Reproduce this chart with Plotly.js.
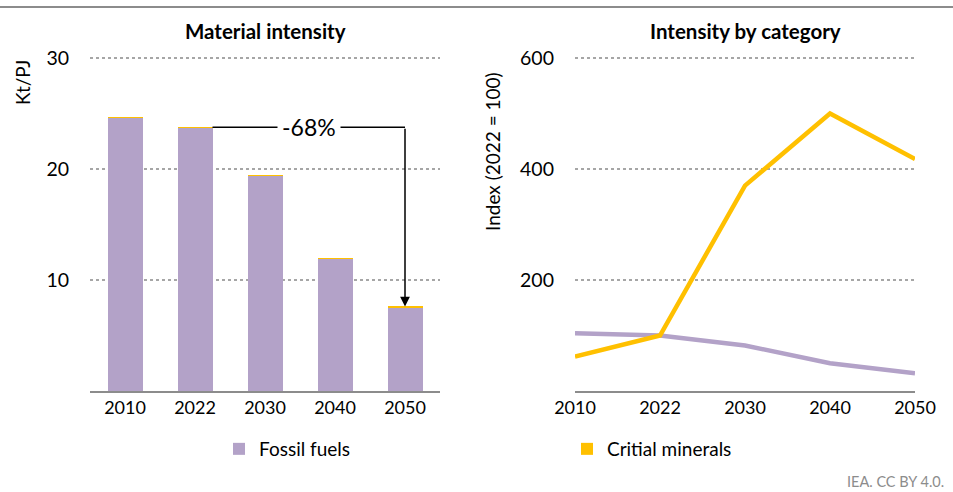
<!DOCTYPE html>
<html>
<head>
<meta charset="utf-8">
<script src="https://cdn.plot.ly/plotly-3.0.1.min.js"></script>
<style>html,body{margin:0;padding:0;background:#fff;}#chart{width:953px;height:492px;}</style>
</head>
<body>
<div id="chart"></div>
<script>
// Data
const years = ['2010', '2022', '2030', '2040', '2050'];
const barFossil = [24.6, 23.7, 19.4, 11.9, 7.5];
const barCritical = [0.05, 0.07, 0.08, 0.1, 0.12];
const indexFossil = [104, 100, 82, 50, 32];
const indexCritical = [62, 100, 370, 500, 418];
const changeLabel = '-68%';

const purple = '#b3a2c8';
const yellow = '#ffc000';
const FONT = 'Lato, "Open Sans", sans-serif';

const traces = [
  {type: 'bar', x: years, y: barFossil, name: 'Fossil fuels', marker: {color: purple},
   xaxis: 'x', yaxis: 'y', legend: 'legend', hoverinfo: 'skip'},
  {type: 'bar', x: years, y: barCritical, name: 'Critial minerals', marker: {color: yellow},
   xaxis: 'x', yaxis: 'y', legend: 'legend2', hoverinfo: 'skip'},
  {type: 'scatter', mode: 'lines', x: years, y: indexFossil, name: 'Fossil fuels',
   line: {color: purple, width: 4.5}, xaxis: 'x2', yaxis: 'y2', showlegend: false},
  {type: 'scatter', mode: 'lines', x: years, y: indexCritical, name: 'Critial minerals',
   line: {color: yellow, width: 4.5}, xaxis: 'x2', yaxis: 'y2', showlegend: false}
];

const W = 953, H = 492;
// 0 at y=391 px, 30 (600) at y=58 px -> 11.1 px per unit; extend range slightly so top gridline is drawn
const yBot = 1 - 391 / H;
const yTop = 1 - (391 - 31 * 333 / 30) / H;

const top2022 = barFossil[1] + barCritical[1];
const top2050 = barFossil[4] + barCritical[4];

const tickFontX = {family: FONT, size: 18, color: '#000'};
const tickFontY = {family: FONT, size: 19.5, color: '#000'};

const axisCommon = {
  showline: true, linecolor: '#8c8c8c', linewidth: 1.5,
  ticks: '', tickfont: tickFontX, fixedrange: true
};
const gridCommon = {
  showline: false, zeroline: false, ticks: '',
  showgrid: true, gridcolor: '#a6a6a6', griddash: 'dot', gridwidth: 1.5,
  tickfont: tickFontY, ticklabelstandoff: 20, fixedrange: true
};

const layout = {
  width: W, height: H,
  margin: {l: 0, r: 0, t: 0, b: 0},
  paper_bgcolor: '#fff', plot_bgcolor: '#fff',
  font: {family: FONT, color: '#000'},
  barmode: 'stack', bargap: 0.5,
  showlegend: true,
  xaxis: Object.assign({}, axisCommon, {
    domain: [90 / W, 440 / W], type: 'category', range: [-0.5, 4.5],
    anchor: 'y', showgrid: false
  }),
  yaxis: Object.assign({}, gridCommon, {
    domain: [yBot, yTop], range: [0, 31], tickvals: [10, 20, 30], anchor: 'x'
  }),
  xaxis2: Object.assign({}, axisCommon, {
    domain: [575 / W, 915 / W], type: 'category', range: [0, 4],
    anchor: 'y2', showgrid: false
  }),
  yaxis2: Object.assign({}, gridCommon, {
    domain: [yBot, yTop], range: [0, 620], tickvals: [200, 400, 600], anchor: 'x2'
  }),
  legend: {
    x: 219 / W, y: 1 - 430 / H, xanchor: 'left', yanchor: 'top',
    orientation: 'h', font: {family: FONT, size: 19, color: '#000'},
    bgcolor: 'rgba(0,0,0,0)', itemwidth: 30
  },
  legend2: {
    x: 567 / W, y: 1 - 430 / H, xanchor: 'left', yanchor: 'top',
    orientation: 'h', font: {family: FONT, size: 19, color: '#000'},
    bgcolor: 'rgba(0,0,0,0)', itemwidth: 30
  },
  shapes: [
    {type: 'line', xref: 'paper', yref: 'paper', x0: 0, x1: 1, y0: 1 - 7 / H, y1: 1 - 7 / H,
     line: {color: '#8c8c8c', width: 2}},
    {type: 'line', xref: 'x', yref: 'y', x0: 1.25, x1: 4, y0: top2022, y1: top2022,
     line: {color: '#000', width: 1.5}}
  ],
  annotations: [
    {text: '<b>Material intensity</b>', xref: 'paper', yref: 'paper', x: 265 / W, y: 1 - 31 / H,
     xanchor: 'center', yanchor: 'middle', showarrow: false, font: {family: FONT, size: 20.5, color: '#000'}},
    {text: '<b>Intensity by category</b>', xref: 'paper', yref: 'paper', x: 745 / W, y: 1 - 31 / H,
     xanchor: 'center', yanchor: 'middle', showarrow: false, font: {family: FONT, size: 20.5, color: '#000'}},
    {text: 'Kt/PJ', xref: 'paper', yref: 'paper', x: 22 / W, y: 1 - 83 / H, textangle: -90,
     xanchor: 'center', yanchor: 'middle', showarrow: false, font: {family: FONT, size: 19, color: '#000'}},
    {text: 'Index (2022 = 100)', xref: 'paper', yref: 'paper', x: 492 / W, y: 1 - 152 / H, textangle: -90,
     xanchor: 'center', yanchor: 'middle', showarrow: false, font: {family: FONT, size: 19, color: '#000'}},
    {text: '', xref: 'x', yref: 'y', x: 4, y: top2050, axref: 'x', ayref: 'y', ax: 4, ay: top2022,
     showarrow: true, arrowhead: 2, arrowsize: 1.3, arrowwidth: 1.5, arrowcolor: '#000', standoff: 0},
    {text: changeLabel, xref: 'x', yref: 'y', x: 2.625, y: top2022, showarrow: false,
     bgcolor: '#fff', borderpad: 4, font: {family: FONT, size: 23, color: '#000'}},
    {text: 'IEA. CC BY 4.0.', xref: 'paper', yref: 'paper', x: 946 / W, y: 1 - 481 / H,
     xanchor: 'right', yanchor: 'middle', showarrow: false, font: {family: FONT, size: 14.5, color: '#8c8c8c'}}
  ]
};

Plotly.newPlot('chart', traces, layout, {displayModeBar: false, staticPlot: true});
</script>
</body>
</html>
